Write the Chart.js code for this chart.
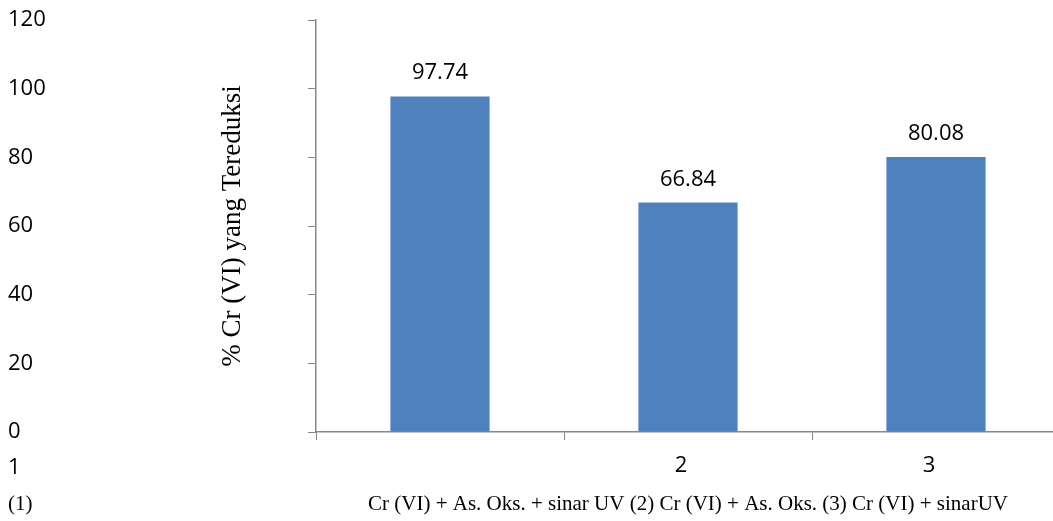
<!DOCTYPE html>
<html>
<head>
<meta charset="utf-8">
<script src="https://cdn.jsdelivr.net/npm/chart.js"></script>
<style>
    html, body { margin: 0; padding: 0; background: #fff; overflow: hidden; }
    #wrap { position: absolute; left: 0; top: 0; width: 1060px; height: 521px; }
</style>
</head>
<body>
<div id="wrap"><canvas id="reduksiChart"></canvas></div>
<script>
// ===================== % Cr(VI) tereduksi bar chart =====================
var categories = ['1', '2', '3'];
var reduksi = [97.74, 66.84, 80.08];
var yMin = 0, yMax = 120, yStep = 20;

var yTitle = '% Cr (VI) yang Tereduksi';
var xTitle = 'Cr (VI) + As. Oks. + sinar UV (2) Cr (VI) + As. Oks. (3) Cr (VI) + sinarUV';
var xNote = '(1)';

var sansFont = "'Open Sans', 'Noto Sans', sans-serif";
var serifFont = "'Liberation Serif', 'DejaVu Serif', serif";
var axisColor = '#868686';

// value labels above each bar
var valueLabels = {
    id: 'valueLabels',
    afterDatasetsDraw: function (chart) {
        var ctx = chart.ctx;
        var meta = chart.getDatasetMeta(0);
        ctx.save();
        ctx.font = '22px ' + sansFont;
        ctx.fillStyle = '#000';
        ctx.textAlign = 'center';
        ctx.textBaseline = 'alphabetic';
        meta.data.forEach(function (bar, i) {
            ctx.fillText(reduksi[i].toFixed(2), bar.x, bar.y - 17);
        });
        ctx.restore();
    }
};

// rotated y title, first category label and the "(1)" note
var sideTexts = {
    id: 'sideTexts',
    afterDraw: function (chart) {
        var ctx = chart.ctx;
        var area = chart.chartArea;
        var xScale = chart.scales.x;
        ctx.save();
        ctx.fillStyle = '#000';

        ctx.font = '27px ' + serifFont;
        ctx.textAlign = 'center';
        ctx.textBaseline = 'middle';
        ctx.translate(233, (area.top + area.bottom) / 2);
        ctx.rotate(-Math.PI / 2);
        ctx.fillText(yTitle, 0, 0);
        ctx.setTransform(1, 0, 0, 1, 0, 0);

        ctx.textAlign = 'left';
        ctx.font = '22px ' + sansFont;
        ctx.fillText(categories[0], 8, area.bottom + 36);

        ctx.font = '21px ' + serifFont;
        ctx.fillText(xNote, 8, xScale.bottom - 17);
        ctx.restore();
    }
};

new Chart(document.getElementById('reduksiChart'), {
    type: 'bar',
    data: {
        labels: categories,
        datasets: [{
            data: reduksi,
            backgroundColor: '#4F81BD',
            borderWidth: 0,
            barPercentage: 0.4,
            categoryPercentage: 1
        }]
    },
    options: {
        responsive: true,
        maintainAspectRatio: false,
        animation: false,
        layout: { padding: { left: 8, top: 20, right: 0, bottom: 0 } },
        plugins: {
            legend: { display: false },
            tooltip: { enabled: false }
        },
        scales: {
            x: {
                grid: {
                    drawOnChartArea: false,
                    drawTicks: true,
                    tickLength: 8,
                    color: axisColor,
                    offset: true
                },
                border: { color: axisColor, width: 1.5 },
                ticks: {
                    color: '#000',
                    font: { family: sansFont, size: 22 },
                    padding: 13,
                    labelOffset: -7,
                    maxRotation: 0,
                    callback: function (v, i) {
                        return i === 0 ? '' : categories[i];
                    }
                },
                title: {
                    display: true,
                    text: xTitle,
                    color: '#000',
                    font: { family: serifFont, size: 21 },
                    padding: { top: 0, bottom: 4 }
                },
                afterFit: function (scale) { scale.height = 89; }
            },
            y: {
                min: yMin,
                max: yMax,
                grid: {
                    drawOnChartArea: false,
                    drawTicks: true,
                    tickLength: 8,
                    color: axisColor
                },
                border: { color: axisColor, width: 1.5 },
                ticks: {
                    stepSize: yStep,
                    color: '#000',
                    crossAlign: 'far',
                    font: { family: sansFont, size: 22 }
                },
                afterFit: function (scale) { scale.width = 308; }
            }
        }
    },
    plugins: [valueLabels, sideTexts]
});
</script>
</body>
</html>
